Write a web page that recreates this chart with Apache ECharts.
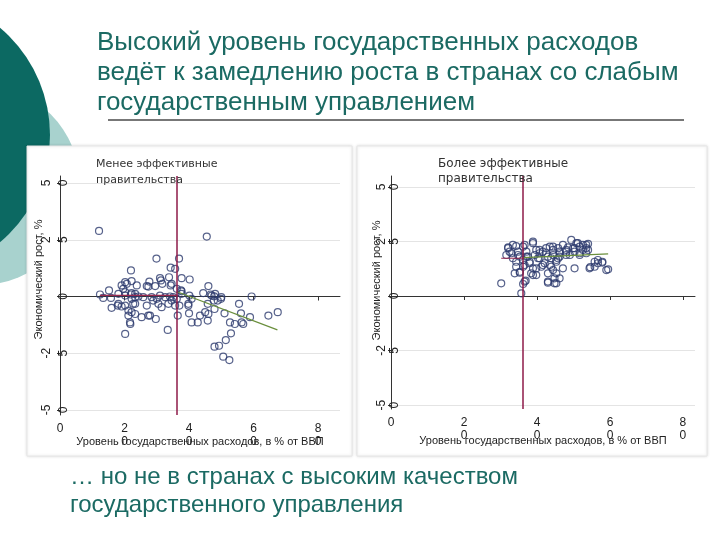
<!DOCTYPE html>
<html><head><meta charset="utf-8">
<script src="https://cdn.jsdelivr.net/npm/echarts@6/dist/echarts.min.js"></script>
<style>html,body{margin:0;padding:0;background:#fff}#c{width:720px;height:540px}</style>
</head><body><div id="c"></div>
<script>
// ---- data ----
const titleLines = ['Высокий уровень государственных расходов', 'ведёт к замедлению роста в странах со слабым', 'государственным управлением'];
const footLines = ['… но не в странах с высоким качеством', 'государственного управления'];
const leftLabel = ['Менее эффективные', 'правительства'];
const rightLabel = ['Более эффективные', 'правительства'];
const xName = 'Уровень государственных расходов, в % от ВВП';
const yName = 'Экономический рост, %';
const xTicks = [0, 20, 40, 60, 80];
const yTicks = [-50, -25, 0, 25, 50];

const leftPoints = [
 [12.1,28.9],[45.5,26.4],[29.9,16.7],[36.9,16.7],[22,11.5],[34.3,12.7],[35.7,12.2],[20.2,6.3],[22.2,6.8],[19.1,4.9],
 [23.8,4.9],[27.7,6.6],[31,8.1],[33.8,8.5],[37.7,8.1],[40.2,7.5],[26.9,4.6],[29.5,4.6],[31.7,5.6],[34.3,4.9],
 [15.2,2.7],[18.1,1.2],[20.2,1.9],[22.2,1.5],[23.3,1.2],[36.2,3.4],[37.5,2.7],[46,4.6],[44.4,1.5],[46.7,0.9],
 [47.8,0.1],[50,-0.3],[59.4,0],[12.4,0.9],[13.4,-0.6],[15.8,-0.6],[20.2,0.4],[22,0.9],[23.3,-0.3],[16,-5],
 [17.9,-4],[20.2,-4],[21.2,-6.2],[22.2,-6.9],[23.3,-3.2],[25.3,-9.1],[21.2,-8.4],[21.8,-12.1],[23.3,-7.7],[27.9,-8.4],
 [29.7,-9.9],[26.9,-4],[28.9,-1.8],[30.5,-3.2],[31.5,-4.7],[33.6,-3.2],[34.6,-1.8],[36.2,-1],[37,-4],[36.5,-8.4],
 [33.4,-14.7],[20.2,-16.5],[40.1,0.4],[40.8,-1],[39.8,-4],[40,-7.4],[40.8,-11.4],[42.7,-11.4],[43.4,-8.4],[45.8,-3.2],
 [46,-7.7],[45.8,-10.6],[45,-6.9],[47,0.4],[47.7,-1.8],[48.1,1.2],[48.9,-1.8],[49.9,-1],[47.9,-5.5],[51,-7.4],
 [55.5,-3.2],[56.1,-7.4],[56.3,-11.4],[56.8,-12.1],[58.9,-9.1],[64.6,-8.4],[67.5,-6.9],[52.7,-11.4],[54.2,-12.1],[53,-16.2],
 [51.4,-19.2],[49.3,-21.7],[47.9,-22.1],[50.6,-26.5],[52.5,-28],[18.1,-3.2],[19.1,-4.4],[21.7,-11.4],[22.7,-3.2],[27.4,-8.4],
 [30,-1],[35.7,-4],[39.8,-3.2],[22.2,-1],[24.3,0],[25.8,-0.3],[28.4,-0.3],[31,0.4],[32.6,-0.3],[34.1,0],
 [35.1,-0.3],[37.7,1.2],[19.6,3.4],[20.7,5.6],[27.4,4.4],[31.3,7.1],[34.6,5.6],[37.7,2.3]
];
const rightPoints = [
 [30.2,5.8],[35.7,1.2],[36.2,5.5],[36.9,7],[33.9,10.4],[35.3,10.7],[32.1,22.3],[34.3,22.9],[38.9,24.2],[36.2,22.6],
 [31.6,18.8],[33,19.6],[34.8,18.8],[37.1,20.3],[39.8,21.1],[41.6,20.3],[43.5,22.6],[44.4,21.1],[45.8,21.9],[47.1,23.4],
 [48.5,22.3],[49.4,25.7],[50.8,24.2],[52.6,23.4],[53.5,21.9],[36.2,16.5],[38,15.7],[40.3,17.3],[42.1,15],[44.4,18.8],
 [46.2,18],[49,18.8],[50.3,20.3],[51.7,19.6],[38.9,12.7],[41.2,13.4],[43.5,14.2],[45.3,16.5],[34.3,13.4],[36.6,14.2],
 [38.4,10.4],[39.8,9.6],[43,10.4],[44.4,11.9],[43,6.1],[44.8,5.8],[46.2,8.1],[47.1,12.7],[50.3,12.7],[54.6,13.2],
 [55.8,15.7],[56.7,16.5],[57.9,15.3],[59.5,12.2],[53.5,19.6],[51.7,22.6],[48,20.3],[32.5,20.3],[33.4,17.3],[35.3,18],
 [37.5,18],[39.4,18.8],[40.7,19.6],[42.5,19.6],[43.9,17.3],[48,18.8],[49.9,21.9],[54,23.9],[46.2,20.3],[32.1,21.9],
 [33.4,23.4],[34.8,20.3],[36.6,23.4],[38.9,24.9],[40.7,21.1],[42.5,21.9],[44.4,22.6],[34.3,15.7],[36.2,13.4],[38,15],
 [39.8,12.7],[41.6,14.2],[43.9,13.4],[35.3,11.1],[38.9,9.6],[44.8,8.1],[43,6.6],[45.3,5.8],[36.6,6.6],[37.1,18],
 [40.7,17.3],[43,18],[45.8,17.3],[51.2,24.2],[53.5,23.4],[48,21.1],[50.3,21.9],[52.6,21.1],[54,21.1],[46.2,19.6],
 [51.7,18.8],[45.3,10.4],[54.4,12.7],[55.8,13.4],[56.7,15],[57.9,15.7],[59,11.9],[45.3,15.7]
];
const leftThreshold = 36.3;
const rightThreshold = 36.2;
const leftLowFit = [[12.4,0.5],[36.3,0.5]];
const leftHighFit = [[36.3,2.1],[67.4,-14.7]];
const rightLowFit = [[30.2,17.3],[36.2,17.3]];
const rightHighFit = [[36.2,17.6],[59.5,19.3]];

// ---- styling ----
const TEAL = '#1b6a63';
const splitLbl = v => { const s = String(v); return s.length > 1 ? s.slice(0, -1) + '\n' + s.slice(-1) : s; };

function xAxisFor(gi, max, gap) {
  return {
    gridIndex: gi, type: 'value', min: 0, max: max,
    name: xName, nameLocation: 'middle', nameGap: gap, nameMoveOverlap: false,
    nameTextStyle: {color: '#222', fontSize: 11, fontFamily: 'Liberation Sans'},
    axisLine: {show: true, lineStyle: {color: '#333', width: 1}},
    axisTick: {show: true, length: 4, customValues: xTicks, lineStyle: {color: '#333'}},
    axisLabel: {customValues: xTicks, formatter: splitLbl, color: '#222', fontSize: 12, lineHeight: 13,
                fontFamily: 'Liberation Sans', margin: 7},
    splitLine: {show: false}
  };
}
function yAxisFor(gi, min, max, gap, lh, mg, pad) {
  return {
    gridIndex: gi, type: 'value', min: min, max: max,
    name: yName, nameLocation: 'middle', nameRotate: 90, nameGap: gap, nameMoveOverlap: false,
    nameTextStyle: {color: '#222', fontSize: 11, fontFamily: 'Liberation Sans', padding: [0, 0, 0, pad]},
    axisLine: {show: true, lineStyle: {color: '#333', width: 1}},
    axisTick: {show: true, length: 3, customValues: yTicks, lineStyle: {color: '#333'}},
    axisLabel: {customValues: yTicks, formatter: splitLbl, rotate: 90, color: '#222', fontSize: 12, lineHeight: lh,
                fontFamily: 'Liberation Sans', margin: mg},
    splitLine: {show: true, lineStyle: {color: '#e4e4e4', width: 1}}
  };
}
const scatterStyle = {color: 'rgba(0,0,0,0)', borderColor: '#2d3b6e', borderWidth: 1.2};

function panelSeries(gi, pts, thr, low, high) {
  return [
    {type: 'scatter', xAxisIndex: gi, yAxisIndex: gi, data: pts, symbol: 'circle', symbolSize: 7,
     itemStyle: scatterStyle, z: 3,
     markLine: {silent: true, symbol: 'none', label: {show: false},
       lineStyle: {color: '#8e1a48', width: 1.5, type: 'solid'}, data: [{xAxis: thr}]}},
    {type: 'line', xAxisIndex: gi, yAxisIndex: gi, data: low, symbol: 'none',
     lineStyle: {color: '#9a2a50', width: 1.2}, z: 4},
    {type: 'line', xAxisIndex: gi, yAxisIndex: gi, data: high, symbol: 'none',
     lineStyle: {color: '#6a8f3c', width: 1.2}, z: 4}
  ];
}

const chart = echarts.init(document.getElementById('c'), null, {renderer: 'canvas'});
chart.setOption({
  animation: false,
  backgroundColor: '#fff',
  graphic: [
    {type: 'circle', shape: {cx: -20, cy: 185, r: 100}, style: {fill: '#a8d2ce'}, z: -20},
    {type: 'circle', shape: {cx: -90, cy: 135, r: 140}, style: {fill: '#0c6962'}, z: -19},
    {type: 'rect', shape: {x: 27, y: 146, width: 325, height: 310}, style: {fill: '#fff', stroke: '#e6e6e6', lineWidth: 1,
      shadowBlur: 3, shadowColor: 'rgba(0,0,0,0.12)'}, z: -10},
    {type: 'rect', shape: {x: 357, y: 146, width: 350, height: 310}, style: {fill: '#fff', stroke: '#e6e6e6', lineWidth: 1,
      shadowBlur: 3, shadowColor: 'rgba(0,0,0,0.12)'}, z: -10},
    {type: 'text', left: 97, top: 28, style: {text: titleLines.join('\n'), fill: TEAL, fontSize: 26, lineHeight: 30,
      fontFamily: 'Liberation Sans'}, z: 5},
    {type: 'line', shape: {x1: 108, y1: 120, x2: 684, y2: 120}, style: {stroke: '#4a4a4a', lineWidth: 1.6}, z: 5},
    {type: 'text', left: 70, top: 463, style: {text: footLines.join('\n'), fill: TEAL, fontSize: 24, lineHeight: 28,
      fontFamily: 'Liberation Sans'}, z: 5},
    {type: 'text', left: 96, top: 156, style: {text: leftLabel.join('\n'), fill: '#333', fontSize: 11, lineHeight: 16,
      fontFamily: 'DejaVu Sans'}, z: 10},
    {type: 'text', left: 438, top: 156, style: {text: rightLabel.join('\n'), fill: '#333', fontSize: 12, lineHeight: 15,
      fontFamily: 'DejaVu Sans'}, z: 10}
  ],
  grid: [
    {left: 60, top: 176, width: 280, height: 239, containLabel: false},
    {left: 391, top: 176, width: 304, height: 233, containLabel: false}
  ],
  xAxis: [xAxisFor(0, 86.8, 21), xAxisFor(1, 83.3, 26)],
  yAxis: [yAxisFor(0, -52.2, 53.1, 16, 17, -12, 32), yAxisFor(1, -51.8, 55, 9, 13, -10, 24)],
  series: [].concat(
    panelSeries(0, leftPoints, leftThreshold, leftLowFit, leftHighFit),
    panelSeries(1, rightPoints, rightThreshold, rightLowFit, rightHighFit)
  )
});
</script></body></html>
